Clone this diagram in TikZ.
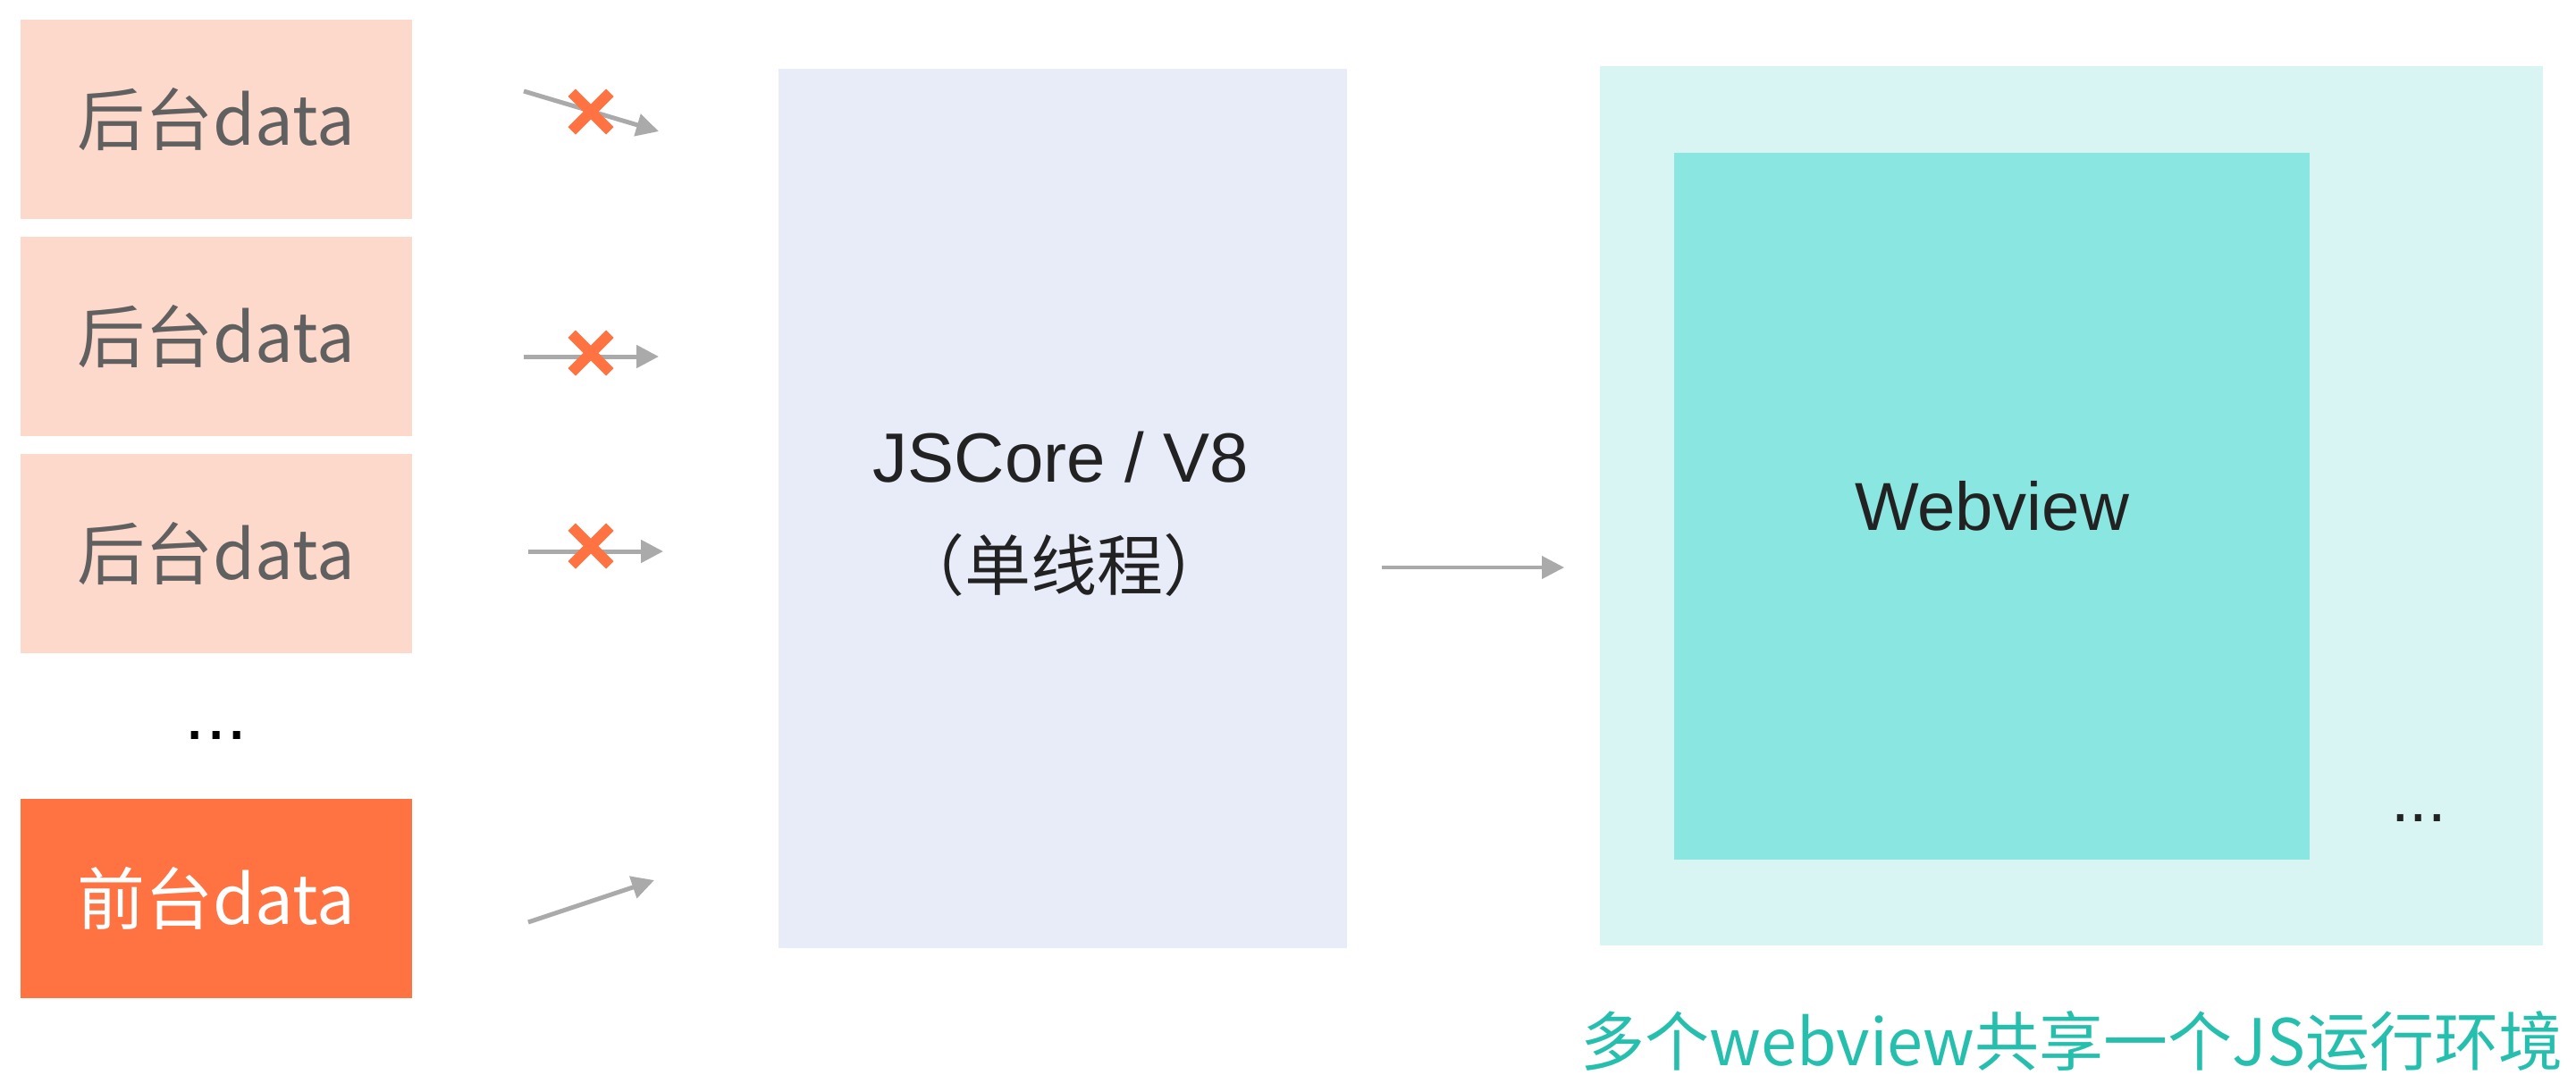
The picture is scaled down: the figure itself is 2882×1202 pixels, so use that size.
\documentclass[tikz,border=0pt]{standalone}
\usepackage{fontspec}
\setmainfont{Liberation Sans}
\newfontfamily\cjk{Noto Sans CJK SC}
\usetikzlibrary{arrows.meta}
\definecolor{bgdata}{RGB}{253,217,204}
\definecolor{fgdata}{RGB}{255,114,66}
\definecolor{arrowgray}{RGB}{170,170,170}
\definecolor{datatext}{RGB}{96,96,96}
\definecolor{corebox}{RGB}{232,236,248}
\definecolor{outerbox}{RGB}{216,245,244}
\definecolor{innerbox}{RGB}{138,230,224}
\definecolor{tealtext}{RGB}{38,191,174}
\definecolor{darktext}{RGB}{34,34,34}
\begin{document}
\begin{tikzpicture}[x=0.25pt,y=-0.25pt,
  every node/.style={inner sep=0pt,outer sep=0pt},
  databox/.style={minimum width=109.5pt,minimum height=55.75pt,
    font=\cjk\fontsize{19}{22}\selectfont},
  bgbox/.style={databox,fill=bgdata,text=datatext},
  fgbox/.style={databox,fill=fgdata,text=white},
  arr/.style={draw=arrowgray,line width=1.25pt,
    -{Triangle[length=6.25pt,width=6.25pt]}},
  xmk/.style={draw=fgdata,line width=3pt}
]
\useasboundingbox (0,0) rectangle (2882,1202);

% left data boxes
\node[bgbox] (b1) at (242,133.5) {后台data};
\node[bgbox] (b2) at (242,376.5) {后台data};
\node[bgbox] (b3) at (242,619.5) {后台data};
\node[anchor=base,font=\fontsize{21}{24}\selectfont] (ldots) at (242,827) {...};
\node[fgbox] (fg) at (242,1005.5) {前台data};

% arrow end points
\coordinate (a1s) at (586,102);  \coordinate (a1e) at (737,147);
\coordinate (a2s) at (586,399);  \coordinate (a2e) at (737,399);
\coordinate (a3s) at (591,617);  \coordinate (a3e) at (742,617);
\coordinate (a4s) at (591,1032); \coordinate (a4e) at (732,985);
\coordinate (x1) at (661,125);
\coordinate (x2) at (661,395);
\coordinate (x3) at (661,611);

\draw[arr] (a1s) -- (a1e);
\draw[arr] (a2s) -- (a2e);
\draw[arr] (a3s) -- (a3e);
\draw[arr] (a4s) -- (a4e);

\foreach \c in {x1,x2,x3}{
  \draw[xmk] (\c) ++(-21.3,-21.3) -- ++(42.6,42.6);
  \draw[xmk] (\c) ++(21.3,-21.3) -- ++(-42.6,42.6);
}

% JS core
\node[fill=corebox,minimum width=159pt,minimum height=246pt] (core) at (1189,569) {};
\node[text=darktext,font=\fontsize{19.5}{22}\selectfont] (coret) at (1187,512) {JSCore / V8};
\node[text=darktext,font=\cjk\fontsize{18.5}{22}\selectfont] (cores) at (1190,632) {（单线程）};

% right side
\node[fill=outerbox,minimum width=263.75pt,minimum height=246pt] (outer) at (2317.5,566) {};
\node[fill=innerbox,minimum width=177.75pt,minimum height=197.75pt,
  text=darktext,font=\fontsize{19}{22}\selectfont] (web) at (2228.5,566.5) {Webview};
\node[anchor=base,text=darktext,font=\fontsize{18.5}{22}\selectfont] (rdots) at (2706,919) {...};
\node[text=tealtext,font=\cjk\fontsize{18}{22}\selectfont] (caption) at (2318,1165) {多个webview共享一个JS运行环境};

% middle connector
\draw[draw=arrowgray,line width=1pt,-{Triangle[length=6.25pt,width=6.25pt]},
  shorten <=9.75pt,shorten >=10pt]
  ([yshift=-16.5pt]core.east) -- ([yshift=-17.25pt]outer.west);
\end{tikzpicture}
\end{document}
